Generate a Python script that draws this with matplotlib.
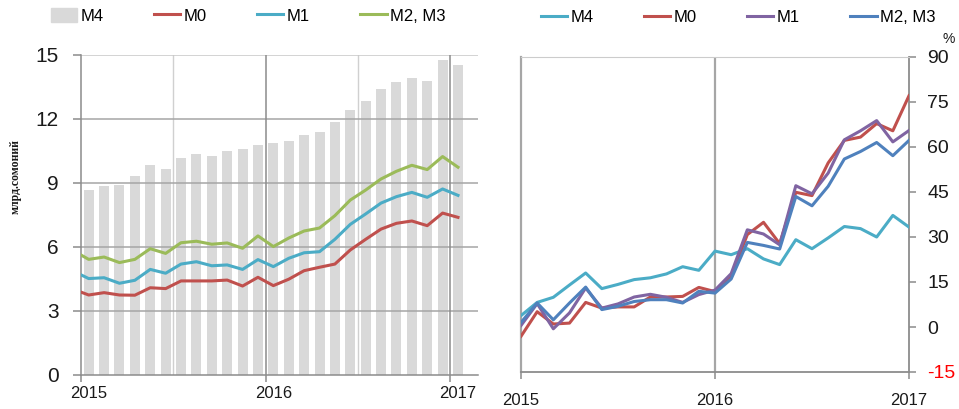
import matplotlib
matplotlib.use('Agg')
import matplotlib.pyplot as plt
from matplotlib import font_manager as fm
from matplotlib.patches import Patch
from matplotlib.lines import Line2D

# шрифт: узкий, если есть, иначе Liberation Sans
narrow = 'Liberation Sans'
try:
    fm.findfont('Liberation Sans Narrow', fallback_to_default=False)
    narrow = 'Liberation Sans Narrow'
except Exception:
    pass
plt.rcParams['font.family'] = [narrow, 'DejaVu Sans']
plt.rcParams['axes.unicode_minus'] = False

# ---- данные: левая панель (млрд. сомони), янв.2015 - янв.2017 ----
months_left = list(range(25))
m4_level = [8.67, 8.86, 8.91, 9.33, 9.83, 9.64, 10.19, 10.36, 10.27, 10.52, 10.61, 10.78,
            10.86, 10.97, 11.24, 11.39, 11.86, 12.44, 12.83, 13.42, 13.74, 13.92, 13.78,
            14.77, 14.52]
# первая точка линий - дек.2014 (за левой границей)
months_lines = list(range(-1, 25))
m0_level = [4.02, 3.75, 3.86, 3.75, 3.74, 4.09, 4.05, 4.41, 4.41, 4.41, 4.45, 4.17, 4.58,
            4.19, 4.49, 4.89, 5.05, 5.20, 5.86, 6.36, 6.84, 7.11, 7.22, 7.00, 7.59, 7.39]
m1_level = [4.87, 4.52, 4.56, 4.30, 4.44, 4.95, 4.77, 5.20, 5.31, 5.12, 5.16, 4.95, 5.41,
            5.08, 5.47, 5.73, 5.78, 6.36, 7.06, 7.55, 8.06, 8.36, 8.56, 8.33, 8.72, 8.42]
m23_level = [5.83, 5.42, 5.53, 5.27, 5.42, 5.92, 5.70, 6.20, 6.27, 6.13, 6.19, 5.94, 6.52,
             6.02, 6.42, 6.75, 6.89, 7.47, 8.20, 8.67, 9.19, 9.55, 9.83, 9.63, 10.24, 9.74]

# ---- данные: правая панель (прирост, %) ----
months_right = list(range(25))
m4_growth = [3.8, 8.2, 9.9, 14.0, 18.0, 12.8, 14.2, 15.8, 16.4, 17.7, 20.1, 18.9, 25.3,
             24.1, 26.1, 22.7, 20.8, 29.1, 26.1, 29.7, 33.5, 32.8, 30.0, 37.2, 33.3]
m0_growth = [-3.1, 5.1, 1.0, 1.3, 8.2, 6.3, 6.7, 6.7, 10.0, 10.0, 10.2, 13.2, 11.8,
             16.9, 30.8, 34.9, 27.8, 44.9, 43.8, 54.7, 62.2, 63.3, 67.8, 65.4, 77.1]
m1_growth = [0.5, 7.8, -0.6, 4.7, 13.0, 6.3, 7.7, 10.0, 10.9, 9.9, 8.2, 10.8, 12.3,
             17.8, 32.4, 31.0, 27.4, 47.1, 44.4, 51.3, 62.4, 65.4, 68.8, 61.7, 65.5]
m23_growth = [1.5, 8.0, 2.4, 8.0, 13.3, 5.8, 6.9, 8.5, 9.1, 9.1, 8.0, 11.9, 11.3,
              16.0, 28.2, 27.2, 26.0, 43.5, 40.4, 46.9, 56.0, 58.5, 61.5, 57.1, 62.2]

years = ['2015', '2016', '2017']

# цвета
c_bar = '#d9d9d9'
c_red = '#c0504d'
c_teal = '#4bacc6'
c_green = '#9bbb59'
c_purple = '#8064a2'
c_blue = '#4f81bd'
c_grid = '#a6a6a6'
c_axis = '#8c8c8c'
c_text = '#1a1a1a'

W, H = 959, 409
fig = plt.figure(figsize=(W / 100, H / 100), dpi=100)

# ================= левая панель =================
ax = fig.add_axes([81 / W, 34 / H, 397 / W, 320 / H])
ax.bar(months_left, m4_level, width=0.65, color=c_bar, zorder=1)
ax.plot(months_lines, m0_level, color=c_red, lw=2.2, zorder=4)
ax.plot(months_lines, m1_level, color=c_teal, lw=2.2, zorder=4)
ax.plot(months_lines, m23_level, color=c_green, lw=2.2, zorder=4)

ax.set_xlim(-0.5, 25.3)
ax.set_ylim(0, 15)
ax.set_yticks(range(0, 16, 3))
for v in range(3, 16, 3):
    ax.axhline(v, color=c_grid if v < 15 else '#c8c8c8', lw=1.1, zorder=2)
# полугодовые и годовые вертикали
for b in [5.5, 17.5]:
    ax.axvline(b, color='#d0d0d0', lw=1.0, zorder=0.5)
for b in [11.5, 23.5]:
    ax.axvline(b, color=c_axis, lw=1.1, zorder=2)

ax.set_xticks([-0.5, 11.5, 23.5])
ax.set_xticklabels([])
ax.set_xticks([0, 12, 24], minor=True)
ax.set_xticklabels(years, minor=True, fontsize=12, color=c_text)
ax.tick_params(axis='x', which='major', length=5, color=c_axis, width=1.1)
ax.tick_params(axis='x', which='minor', length=0, pad=8)
ax.tick_params(axis='y', length=6, color=c_axis, width=1.1, pad=10,
               labelsize=15, labelcolor=c_text)
for s in ['top', 'right']:
    ax.spines[s].set_visible(False)
for s in ['left', 'bottom']:
    ax.spines[s].set_color(c_axis)
    ax.spines[s].set_linewidth(1.1)
ax.set_ylabel('млрд.сомоний', family=['Liberation Serif', 'DejaVu Serif'],
              fontsize=8.5, fontweight='bold', color=c_text)
ax.yaxis.set_label_coords(-0.15, 0.62)

h_left = [Patch(color=c_bar), Line2D([], [], color=c_red, lw=2.2),
          Line2D([], [], color=c_teal, lw=2.2), Line2D([], [], color=c_green, lw=2.2)]
fig.legend(h_left, ['M4', 'M0', 'M1', 'M2, M3'], loc='center',
           bbox_to_anchor=(248 / W, 1 - 16 / H), ncol=4, frameon=False,
           fontsize=12, handlelength=1.6, handletextpad=0.2, columnspacing=3.0,
           handleheight=0.9)

# ================= правая панель =================
ax2 = fig.add_axes([521 / W, 37 / H, 388 / W, 315 / H])
ax2.plot(months_right, m4_growth, color=c_teal, lw=2.2, zorder=3)
ax2.plot(months_right, m0_growth, color=c_red, lw=2.2, zorder=3)
ax2.plot(months_right, m1_growth, color=c_purple, lw=2.2, zorder=3)
ax2.plot(months_right, m23_growth, color=c_blue, lw=2.2, zorder=3)

ax2.set_xlim(0, 24)
ax2.set_ylim(-15, 90)
ax2.set_yticks(range(-15, 91, 15))
ax2.yaxis.tick_right()
ax2.axvline(12, color='#a6a6a6', lw=1.6, zorder=1)
ax2.set_xticks([0, 12, 24])
ax2.set_xticklabels(years, fontsize=12, color=c_text)
ax2.tick_params(axis='x', length=5, color=c_axis, width=1.1, pad=10)
ax2.tick_params(axis='y', length=5, color=c_axis, width=1.1, pad=8,
                labelsize=14, labelcolor=c_text)
ax2.get_yticklabels()[0].set_color('red')
ax2.spines['top'].set_color('#cccccc')
ax2.spines['left'].set_color('#a6a6a6')
ax2.spines['left'].set_linewidth(1.6)
ax2.spines['right'].set_color(c_axis)
ax2.spines['right'].set_linewidth(1.3)
ax2.spines['bottom'].set_color(c_axis)
ax2.spines['bottom'].set_linewidth(1.3)
fig.text(949 / W, 1 - 39 / H, '%', fontsize=10, color=c_text, ha='center', va='center')

h_right = [Line2D([], [], color=c, lw=2.2) for c in [c_teal, c_red, c_purple, c_blue]]
fig.legend(h_right, ['M4', 'M0', 'M1', 'M2, M3'], loc='center',
           bbox_to_anchor=(738 / W, 1 - 17 / H), ncol=4, frameon=False,
           fontsize=12, handlelength=1.6, handletextpad=0.2, columnspacing=3.0)

plt.savefig('out.png', dpi=100)
plt.close()
